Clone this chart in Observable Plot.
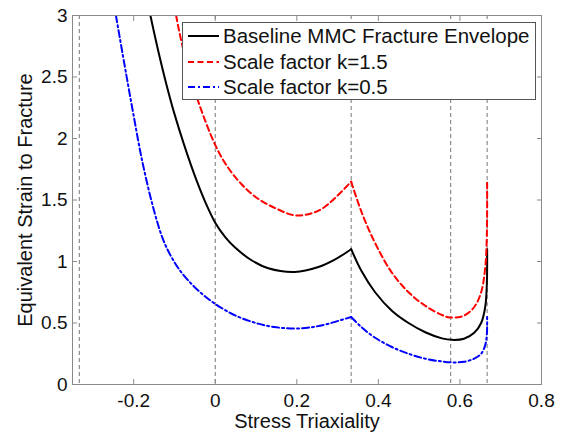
<!DOCTYPE html>
<html>
<head>
<meta charset="utf-8">
<script src="https://cdn.jsdelivr.net/npm/d3@7"></script>
<script src="https://cdn.jsdelivr.net/npm/@observablehq/plot@0.6"></script>
<style>
  body { margin: 0; background: #fff; font-family: "Liberation Sans", Arial, sans-serif; }
  #wrap { position: relative; width: 568px; height: 435px; }
  #legend { position: absolute; left: 182px; top: 22px; width: 352px; height: 76px;
            border: 1px solid #555; background: #fff; box-sizing: content-box; }
  .row { position: absolute; left: 0; height: 24px; display: flex; align-items: center;
         font-size: 20.5px; color: #111; white-space: nowrap; }
  .row svg { margin-left: 5px; margin-right: 4px; }
</style>
</head>
<body>
<div id="wrap"></div>
<script>
// ---- data ----
const seriesNames = ["Baseline MMC Fracture Envelope", "Scale factor k=1.5", "Scale factor k=0.5"];

// Baseline (black), two branches split at eta = 1/3
const baseX1 = [-0.159, -0.141, -0.1205, -0.100, -0.0755, -0.047, -0.02, 0, 0.024, 0.048, 0.089, 0.13, 0.195, 0.253, 0.293, 0.3333];
const baseY1 = [3.0, 2.73, 2.45, 2.20, 1.94, 1.67, 1.45, 1.315, 1.20, 1.115, 1.01, 0.945, 0.915, 0.955, 1.015, 1.10];
const baseX2 = [0.3333, 0.359, 0.392, 0.433, 0.474, 0.515, 0.556, 0.581, 0.61, 0.635, 0.652, 0.662, 0.666, 0.6667];
const baseY2 = [1.10, 0.92, 0.75, 0.60, 0.50, 0.425, 0.375, 0.363, 0.372, 0.42, 0.50, 0.63, 0.82, 1.10];

// k = 1.5 (red)
const k15X1 = [-0.096, -0.0795, -0.0426, 0.0025, 0.03, 0.064, 0.105, 0.15, 0.195, 0.235, 0.269, 0.3333];
const k15Y1 = [3.0, 2.74, 2.31, 1.93, 1.77, 1.63, 1.51, 1.43, 1.375, 1.39, 1.445, 1.649];
const k15X2 = [0.3333, 0.359, 0.392, 0.433, 0.474, 0.515, 0.556, 0.575, 0.61, 0.635, 0.652, 0.662, 0.666, 0.6667];
const k15Y2 = [1.649, 1.40, 1.15, 0.91, 0.75, 0.64, 0.565, 0.545, 0.56, 0.63, 0.75, 0.95, 1.22, 1.64];

// k = 0.5 (blue)
const k05X1 = [-0.2435, -0.223, -0.2025, -0.178, -0.149, -0.128, -0.108, -0.085, -0.059, -0.03, 0, 0.05, 0.105, 0.15, 0.195, 0.235, 0.269, 0.3333];
const k05Y1 = [3.0, 2.61, 2.23, 1.80, 1.40, 1.18, 1.04, 0.92, 0.82, 0.73, 0.655, 0.56, 0.495, 0.465, 0.455, 0.465, 0.487, 0.549];
const k05X2 = [0.3333, 0.359, 0.392, 0.433, 0.474, 0.515, 0.556, 0.581, 0.61, 0.635, 0.652, 0.662, 0.666, 0.6667];
const k05Y2 = [0.549, 0.465, 0.38, 0.305, 0.25, 0.21, 0.187, 0.18, 0.185, 0.21, 0.25, 0.32, 0.41, 0.549];

// reference vertical lines (stress states)
const refLines = [-0.3333, 0, 0.3333, 0.5774, 0.6667];

const xTicks = [-0.2, 0, 0.2, 0.4, 0.6, 0.8];
const yTicks = [0, 0.5, 1, 1.5, 2, 2.5, 3];
const xTitle = "Stress Triaxiality";
const yTitle = "Equivalent Strain to Fracture";

// ---- build table ----
function rows(name, xs, ys, seg) { return xs.map((x, i) => ({series: name, seg: name + seg, x, y: ys[i]})); }
const data = [
  ...rows(seriesNames[0], baseX1, baseY1, 1), ...rows(seriesNames[0], baseX2, baseY2, 2),
  ...rows(seriesNames[1], k15X1, k15Y1, 1), ...rows(seriesNames[1], k15X2, k15Y2, 2),
  ...rows(seriesNames[2], k05X1, k05Y1, 1), ...rows(seriesNames[2], k05X2, k05Y2, 2)
];
const styles = {
  [seriesNames[0]]: {stroke: "#000000", dash: null},
  [seriesNames[1]]: {stroke: "#ff0000", dash: "6,3.5"},
  [seriesNames[2]]: {stroke: "#0000ff", dash: "7,3,2,3"}
};

const fmt = d => `${d}`;
const blank = () => "";
const axisColor = "#8a8a8a";

const chart = Plot.plot({
  width: 568,
  height: 435,
  marginLeft: 72,
  marginRight: 27,
  marginTop: 15,
  marginBottom: 51,
  style: {fontFamily: "Liberation Sans, Arial, sans-serif", fontSize: "19px", color: "#111", background: "#fff"},
  x: {domain: [-0.35, 0.8]},
  y: {domain: [0, 3]},
  marks: [
    Plot.ruleX(refLines, {stroke: "#777", strokeWidth: 1, strokeDasharray: "4,3"}),
    ...seriesNames.map(n => Plot.line(data.filter(d => d.series === n), {
      x: "x", y: "y", z: "seg", curve: "catmull-rom",
      stroke: styles[n].stroke, strokeWidth: 2, strokeDasharray: styles[n].dash, clip: true
    })),
    Plot.frame({stroke: axisColor, strokeWidth: 1}),
    // tick labels
    Plot.axisX({ticks: xTicks, tickFormat: fmt, tickSize: 0, tickPadding: 9, fill: "#111", label: null, fontSize: 19}),
    Plot.axisY({ticks: yTicks, tickFormat: fmt, tickSize: 0, tickPadding: 5, fill: "#111", label: null, fontSize: 19}),
    // inward tick marks on all four sides
    Plot.axisX({ticks: xTicks, tickFormat: blank, tickSize: 5, dy: -5, stroke: axisColor, label: null}),
    Plot.axisX({anchor: "top", ticks: xTicks, tickFormat: blank, tickSize: 5, dy: 5, stroke: axisColor, label: null}),
    Plot.axisY({ticks: yTicks, tickFormat: blank, tickSize: 5, dx: 5, stroke: axisColor, label: null}),
    Plot.axisY({anchor: "right", ticks: yTicks, tickFormat: blank, tickSize: 5, dx: -5, stroke: axisColor, label: null}),
    // axis titles
    Plot.text([xTitle], {text: d => d, frameAnchor: "bottom", textAnchor: "middle", lineAnchor: "middle", dy: 37, fontSize: 20, fill: "#111"}),
    Plot.text([yTitle], {text: d => d, frameAnchor: "left", textAnchor: "middle", lineAnchor: "middle", rotate: -90, dx: -47, fontSize: 20, fill: "#111"})
  ]
});

const wrap = document.getElementById("wrap");
wrap.appendChild(chart);

// legend (inside the plot area, as in the reference)
const legend = document.createElement("div");
legend.id = "legend";
seriesNames.forEach((n, i) => {
  const r = document.createElement("div");
  r.className = "row";
  r.style.top = (1 + i * 25.5) + "px";
  const s = styles[n];
  r.innerHTML = `<svg width="31" height="10"><line x1="0" x2="31" y1="5" y2="5" stroke="${s.stroke}" stroke-width="2" ${s.dash ? `stroke-dasharray="${s.dash}"` : ""}/></svg><span>${n}</span>`;
  legend.appendChild(r);
});
wrap.appendChild(legend);
</script>
</body>
</html>
